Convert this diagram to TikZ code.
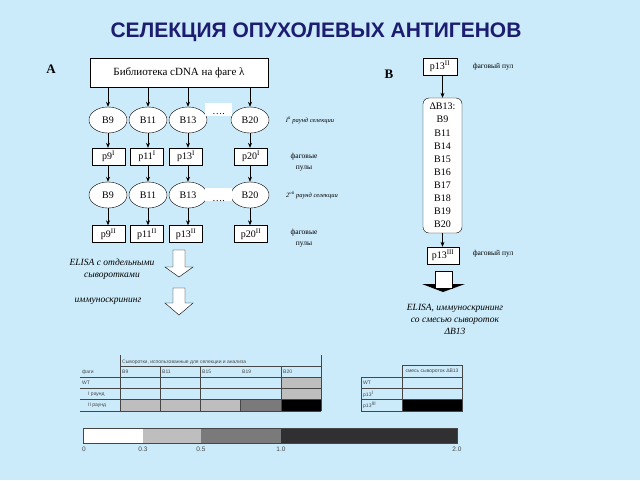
\documentclass[tikz,border=0pt]{standalone}
\usepackage{fontspec}
\setmainfont{Liberation Serif}
\setsansfont{Liberation Sans}
\usetikzlibrary{arrows.meta,shapes.geometric}

\definecolor{bgblue}{RGB}{204,235,250}
\definecolor{titleblue}{RGB}{28,28,112}
\definecolor{cellgray}{RGB}{190,190,190}
\definecolor{midgray}{RGB}{122,122,122}
\definecolor{bardark}{RGB}{48,48,50}
\definecolor{rulegray}{RGB}{70,70,70}

\tikzset{
  serum/.style={draw, ellipse, fill=white, minimum width=38pt, minimum height=26pt, inner sep=0pt, font=\fontsize{10}{10}\selectfont},
  pool/.style={draw, fill=white, minimum width=33pt, minimum height=17pt, inner sep=0pt, font=\fontsize{10}{10}\selectfont},
  link/.style={-{Stealth[length=5pt,width=4pt]}, semithick},
  note/.style={font=\fontsize{6.5}{7}\selectfont\itshape},
  poolnote/.style={align=center, font=\fontsize{7.5}{11}\selectfont},
  screen/.style={align=center, font=\fontsize{9.5}{12}\selectfont\itshape},
  tab/.style={font=\sffamily\fontsize{5}{5}\selectfont, text=rulegray, inner sep=0pt},
  rule/.style={rulegray, thin},
  scalelbl/.style={font=\sffamily\fontsize{6.5}{6.5}\selectfont, text=rulegray, inner sep=0pt}
}

% hollow block arrow pointing down: x, top, head start, bottom
\newcommand{\blockdown}[4]{%
  \draw[fill=white] (#1-6,#2) -- (#1+6,#2) -- (#1+6,#3) -- (#1+14,#3) -- (#1,#4)
    -- (#1-14,#3) -- (#1-6,#3) -- cycle;}

\begin{document}
\begin{tikzpicture}[x=1pt,y=-1pt]
    \fill[bgblue] (0,0) rectangle (640,480);
    \useasboundingbox (0,0) rectangle (640,480);

    \node[font=\sffamily\bfseries\fontsize{21}{21}\selectfont, text=titleblue] (title) at (316,32) {СЕЛЕКЦИЯ ОПУХОЛЕВЫХ АНТИГЕНОВ};

    % part A
    \node[font=\bfseries\fontsize{13}{13}\selectfont] (labA) at (51,69) {A};
    \node[draw, fill=white, minimum width=178pt, minimum height=29pt, inner sep=0pt, font=\fontsize{11}{11}\selectfont] (lib) at (179,72.5) {Библиотека cDNA на фаге λ};

    % first round
    \node[serum] (ea1) at (108,120) {B9};
    \node[serum] (ea2) at (148,120) {B11};
    \node[serum] (ea3) at (188,120) {B13};
    \node[serum] (ea4) at (250,120) {B20};
    \fill[white] (205,103) rectangle (232,116);
    \node[inner sep=0pt, font=\fontsize{10}{10}\selectfont] (dotsa) at (218.5,114) {\ldots.};
    \node[note] (rnda) at (310,120) {I\textsuperscript{й} раунд селекции};

    \node[pool] (pa1) at (108.5,156.5) {p9\textsuperscript{I}};
    \node[pool] (pa2) at (147,156.5) {p11\textsuperscript{I}};
    \node[pool] (pa3) at (186,156.5) {p13\textsuperscript{I}};
    \node[pool] (pa4) at (251,156.5) {p20\textsuperscript{I}};
    \node[poolnote] (nota) at (304,162) {фаговые\\пулы};

    % second round
    \node[serum] (eb1) at (108,195) {B9};
    \node[serum] (eb2) at (148,195) {B11};
    \node[serum] (eb3) at (188,195) {B13};
    \node[serum] (eb4) at (250,195) {B20};
    \fill[white] (205,188) rectangle (232,201);
    \node[inner sep=0pt, font=\fontsize{10}{10}\selectfont] (dotsb) at (218.5,201) {\ldots.};
    \node[note] (rndb) at (312,195) {2\textsuperscript{ой} раунд селекции};

    \node[pool] (pb1) at (108.5,234) {p9\textsuperscript{II}};
    \node[pool] (pb2) at (147,234) {p11\textsuperscript{II}};
    \node[pool] (pb3) at (186,234) {p13\textsuperscript{II}};
    \node[pool] (pb4) at (251,234) {p20\textsuperscript{II}};
    \node[poolnote] (notb) at (304,238) {фаговые\\пулы};

    \foreach \i in {1,...,4} {
        \draw[link] (lib.south -| ea\i.north) -- (ea\i.north);
        \draw[link] (ea\i.south) -- (ea\i.south |- pa\i.north);
        \draw[link] (pa\i.south -| eb\i.north) -- (eb\i.north);
        \draw[link] (eb\i.south) -- (eb\i.south |- pb\i.north);
    }

    % screening
    \node[screen] (elisaa) at (112,269) {ELISA с отдельными\\сыворотками};
    \blockdown{179}{250}{267}{277}
    \node[screen] (immuna) at (108,301) {иммуноскрининг};
    \blockdown{179}{288}{303}{315}

    % part B
    \node[font=\bfseries\fontsize{13}{13}\selectfont] (labB) at (389,74) {B};
    \node[pool, minimum width=34pt] (pc) at (440,66.5) {p13\textsuperscript{II}};
    \node[poolnote] (notc) at (493,67) {фаговый пул};
    \node[draw, fill=white, rounded corners=6pt, minimum width=39pt, minimum height=135pt, inner sep=0pt, align=center, font=\fontsize{10}{13.1}\selectfont] (mix) at (442.5,165.5)
        {ΔB13:\\B9\\B11\\B14\\B15\\B16\\B17\\B18\\B19\\B20};
    \node[pool, minimum width=32pt] (pd) at (443,255.5) {p13\textsuperscript{III}};
    \node[poolnote] (notd) at (493,254) {фаговый пул};
    \draw[link] (pc.south -| mix.north) -- (mix.north);
    \draw[link] (mix.south) -- (mix.south |- pd.north);

    \fill[black] (422,284) -- (465,284) -- (443,292) -- cycle;
    \draw[fill=white] (435,271) rectangle (452,288);
    \node[screen] (elisab) at (455,319) {ELISA, иммуноскрининг\\со смесью сывороток\\ΔB13};

    % table of single sera
    \fill[cellgray] (281,377) rectangle (321,399);
    \fill[cellgray] (120,399) rectangle (240,411);
    \fill[midgray] (240,399) rectangle (281,411);
    \fill[black] (281,399) rectangle (321,411);
    \draw[rule] (120,355) -- (120,411);
    \draw[rule] (321,355) -- (321,411);
    \draw[rule] (120,366) -- (321,366);
    \foreach \y in {377,388,399,411}
        \draw[rule] (80,\y) -- (321,\y);
    \foreach \x in {160,200,281}
        \draw[rule] (\x,366) -- (\x,411);
    \draw[rule] (240,399) -- (240,411);
    \node[tab, anchor=south west] (hdrA) at (122,365) {Сыворотки, использованные для селекции и анализа};
    \node[tab, anchor=west] (phage) at (82,372) {фаги};
    \node[tab, anchor=west] (rowwt) at (82,383) {WT};
    \node[tab, anchor=west] (rowi) at (88,394) {I раунд};
    \node[tab, anchor=west] (rowii) at (88,405) {II раунд};
    \foreach \x/\s in {122/B9,162/B11,202/B15,242/B19,283/B20}
        \node[tab, anchor=west] at (\x,372) {\s};

    % table of the serum mix
    \fill[black] (402,399) rectangle (462,411);
    \draw[rule] (402,365) rectangle (462,411);
    \draw[rule] (361,377) -- (361,411);
    \foreach \y in {377,388,399,411}
        \draw[rule] (361,\y) -- (462,\y);
    \node[tab] (hdrB) at (432,371) {смесь сывороток ΔB13};
    \node[tab, anchor=west] (wtb) at (363,383) {WT};
    \node[tab, anchor=west] (p13i) at (363,394) {p13\textsuperscript{I}};
    \node[tab, anchor=west] (p13iii) at (363,405.5) {p13\textsuperscript{III}};

    % colour scale
    \fill[white] (83,428) rectangle (143,443);
    \fill[cellgray] (143,428) rectangle (201,443);
    \fill[midgray] (201,428) rectangle (281,443);
    \fill[bardark] (281,428) rectangle (457,443);
    \draw[rulegray] (83,428) rectangle (457,443);
    \foreach \x/\v in {84/0,143/0.3,201/0.5,281/1.0,457/2.0}
        \node[scalelbl] at (\x,449) {\v};
\end{tikzpicture}
\end{document}
